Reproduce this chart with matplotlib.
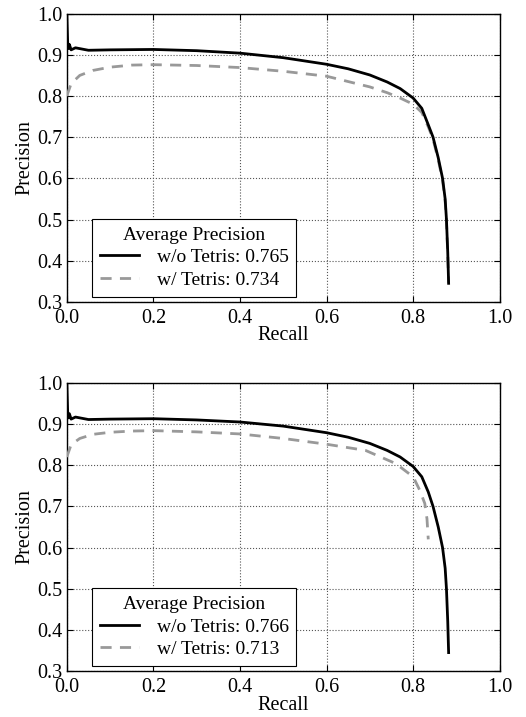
import matplotlib
matplotlib.use('Agg')
import matplotlib.pyplot as plt

plt.rcParams['font.family'] = ['Liberation Serif', 'DejaVu Serif']
plt.rcParams['font.size'] = 14

# recall / precision
recall_base = [0.0, 0.002, 0.004, 0.006, 0.01, 0.02, 0.05, 0.1, 0.2, 0.3, 0.4, 0.5, 0.6, 0.65,
               0.7, 0.74, 0.77, 0.8, 0.82, 0.835, 0.846, 0.858, 0.868, 0.874, 0.877, 0.88, 0.882]
prec_base_a = [1.0, 0.93, 0.915, 0.925, 0.912, 0.917, 0.911, 0.912, 0.913, 0.91, 0.904, 0.893, 0.877, 0.866,
               0.851, 0.834, 0.818, 0.795, 0.77, 0.73, 0.70, 0.65, 0.60, 0.55, 0.50, 0.42, 0.345]
prec_base_b = [1.0, 0.93, 0.915, 0.925, 0.912, 0.917, 0.911, 0.912, 0.913, 0.91, 0.905, 0.895, 0.879, 0.868,
               0.853, 0.836, 0.82, 0.797, 0.772, 0.735, 0.70, 0.65, 0.60, 0.55, 0.50, 0.42, 0.345]

recall_tetris_a = [0.0, 0.01, 0.03, 0.06, 0.1, 0.15, 0.2, 0.3, 0.4, 0.5, 0.6, 0.7, 0.74, 0.77,
                   0.8, 0.82, 0.835, 0.846, 0.858, 0.868, 0.874, 0.877, 0.88, 0.882]
prec_tetris_a = [0.80, 0.83, 0.85, 0.862, 0.87, 0.875, 0.876, 0.874, 0.869, 0.86, 0.848, 0.822, 0.808, 0.795,
                 0.78, 0.76, 0.725, 0.695, 0.645, 0.595, 0.545, 0.495, 0.415, 0.345]

recall_tetris_b = [0.0, 0.01, 0.03, 0.06, 0.1, 0.15, 0.2, 0.3, 0.4, 0.5, 0.6, 0.69, 0.76,
                   0.8, 0.815, 0.827, 0.832, 0.835]
prec_tetris_b = [0.82, 0.85, 0.865, 0.875, 0.88, 0.883, 0.884, 0.881, 0.876, 0.865, 0.851, 0.836, 0.804,
                 0.772, 0.74, 0.707, 0.67, 0.62]

ap_labels = [('w/o Tetris: 0.765', 'w/ Tetris: 0.734'),
             ('w/o Tetris: 0.766', 'w/ Tetris: 0.713')]

ticks_x = [0.0, 0.2, 0.4, 0.6, 0.8, 1.0]
ticks_y = [0.3, 0.4, 0.5, 0.6, 0.7, 0.8, 0.9, 1.0]

fig = plt.figure(figsize=(5.26, 7.17), dpi=100)
ax1 = fig.add_axes([0.127, 0.579, 0.823, 0.402])
ax2 = fig.add_axes([0.127, 0.064, 0.823, 0.402])

panels = [
    (ax1, prec_base_a, recall_tetris_a, prec_tetris_a, ap_labels[0]),
    (ax2, prec_base_b, recall_tetris_b, prec_tetris_b, ap_labels[1]),
]

for ax, pb, rt, pt, labels in panels:
    ax.plot(rt, pt, color='#999999', lw=2, ls=(0, (4, 3)), label=labels[1], zorder=3)
    ax.plot(recall_base, pb, color='black', lw=2, label=labels[0], zorder=4)
    ax.set_xlim(0, 1)
    ax.set_ylim(0.3, 1.0)
    ax.set_xticks(ticks_x)
    ax.set_yticks(ticks_y)
    ax.set_xticklabels([f'{t:.1f}' for t in ticks_x])
    ax.set_yticklabels([f'{t:.1f}' for t in ticks_y])
    ax.tick_params(direction='in', length=4, top=True, right=True, labelsize=14.5)
    ax.tick_params(axis='x', pad=5)
    ax.tick_params(axis='y', pad=3)
    ax.grid(True, color='#555555', ls=':', lw=0.8)
    ax.set_xlabel('Recall', fontsize=14.5, labelpad=-1)
    ax.set_ylabel('Precision', fontsize=14.5, labelpad=2)
    for s in ax.spines.values():
        s.set_linewidth(1.0)
    h, l = ax.get_legend_handles_labels()
    leg = ax.legend([h[1], h[0]], [l[1], l[0]], title='Average Precision', loc='lower left',
                    bbox_to_anchor=(0.05, 0.005), borderaxespad=0.2, fancybox=False,
                    edgecolor='black', framealpha=1, fontsize=14, title_fontsize=14,
                    handlelength=2.0, borderpad=0.4, labelspacing=0.25, handletextpad=0.9)
    leg.get_frame().set_linewidth(0.8)

fig.savefig('out.png', dpi=100)
